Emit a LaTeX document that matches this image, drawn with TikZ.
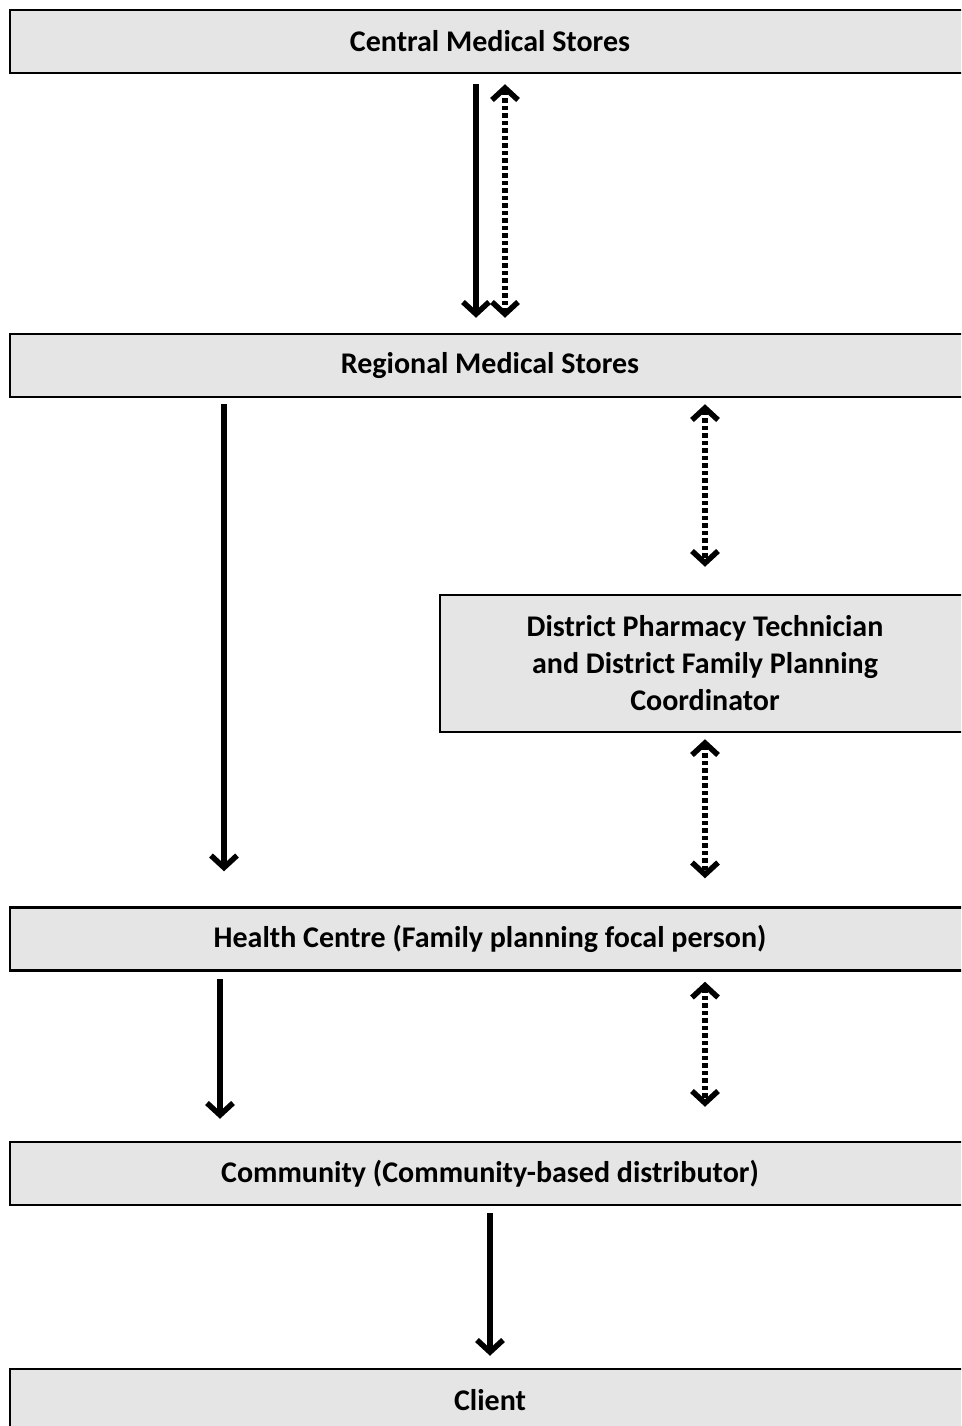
\documentclass[tikz,border=0pt]{standalone}
\usepackage{fontspec}
\setmainfont{Carlito}
\usetikzlibrary{arrows.meta,positioning,calc}

\tikzset{
  level/.style={draw,line width=2.5pt,fill=black!10,minimum width=960pt,minimum height=63pt,
    font=\fontsize{30}{37}\selectfont\bfseries,align=center,inner sep=0pt},
  flow/.style={line width=5.5pt,-{Straight Barb[length=12pt,width=26pt,line width=5.5pt]}},
  report/.style={line width=5.5pt,dash pattern=on 4.5pt off 3pt,
    {Straight Barb[length=12pt,width=26pt,line width=5.5pt]}-{Straight Barb[length=12pt,width=26pt,line width=5.5pt]}},
}

\begin{document}
\begin{tikzpicture}[x=1pt,y=-1pt]
  \useasboundingbox (0,0) rectangle (961,1426);
  \clip (0,0) rectangle (961,1426);

  % Levels
  \node[level] (cms) at (490,41.5) {Central Medical Stores};
  \node[level] (rms) at (490,365.5) {Regional Medical Stores};
  \node[level,minimum width=530pt,minimum height=137pt] (dist) at (705,663.5)
    {District Pharmacy Technician\\and District Family Planning\\Coordinator};
  \node[level] (hc) at (490,939) {Health Centre (Family planning focal person)};
  \node[level] (cbd) at (490,1173.5) {Community (Community-based distributor)};
  \node[level] (cl) at (490,1400.5) {Client};

  % Supplies (solid) and reports/requests (dotted)
  \draw[flow] ([xshift=-14pt,yshift=-10pt]cms.south) -- ([xshift=-14pt,yshift=15pt]rms.north);
  \draw[report] ([xshift=15pt,yshift=-10pt]cms.south) -- ([xshift=15pt,yshift=15pt]rms.north);

  \draw[flow] ([xshift=-266pt,yshift=-6pt]rms.south) -- ([xshift=-266pt,yshift=35pt]hc.north);
  \draw[report] ([yshift=-6pt]rms.south -| dist.north) -- ([yshift=27pt]dist.north);
  \draw[report] ([yshift=-6pt]dist.south) -- ([yshift=28pt]hc.north -| dist.south);

  \draw[flow] ([xshift=-270pt,yshift=-7pt]hc.south) -- ([xshift=-270pt,yshift=22pt]cbd.north);
  \draw[report] ([xshift=215pt,yshift=-10pt]hc.south) -- ([xshift=215pt,yshift=34pt]cbd.north);

  \draw[flow] ([yshift=-7pt]cbd.south) -- ([yshift=12pt]cl.north);
\end{tikzpicture}
\end{document}
